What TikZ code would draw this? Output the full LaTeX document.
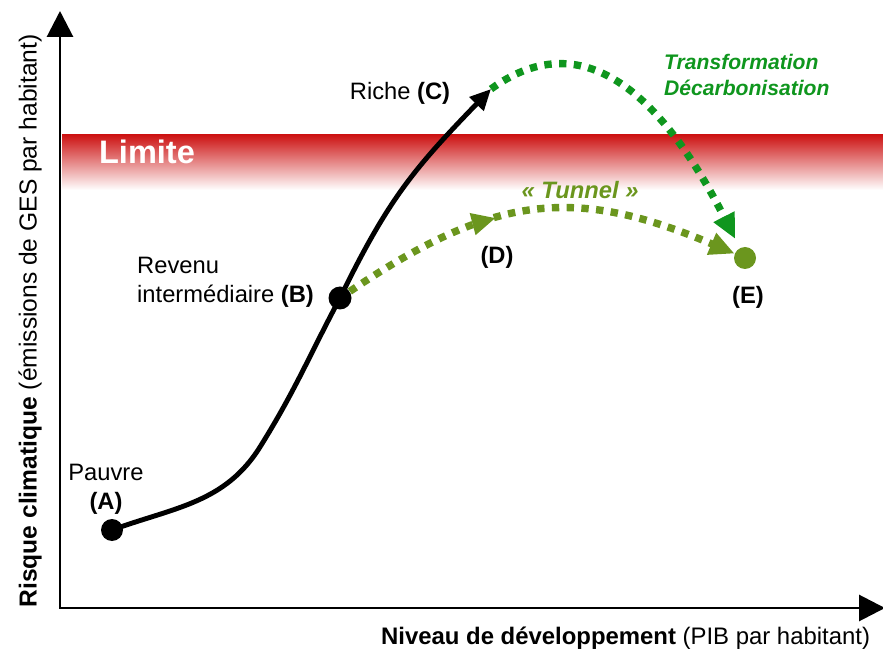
\documentclass[tikz,border=0pt]{standalone}
\usepackage{fontspec}
\setmainfont{Liberation Sans}
\usepackage{tikz}
\usetikzlibrary{arrows.meta,decorations.markings}

\definecolor{tunnelgreen}{RGB}{107,150,30}
\definecolor{decarbgreen}{RGB}{15,150,30}
\definecolor{limitred}{RGB}{205,20,20}

\begin{document}
\begin{tikzpicture}[
    font=\fontsize{13.5}{16.4}\selectfont,
    axis/.style={line width=1.7pt,{Triangle[length=0.52cm,width=0.52cm]}-{Triangle[length=0.52cm,width=0.52cm]}},
    dot/.style={circle,fill=black,inner sep=0pt,minimum size=0.44cm},
    growth/.style={line width=2.8pt,-{Triangle[length=0.42cm,width=0.38cm]}},
    greendash/.style={line width=4.2pt,dash pattern=on 4.2pt off 4.2pt,-{Triangle[length=0.5cm,width=0.44cm]}},
    midarrow/.style={decoration={markings,mark=at position #1 with {\arrow{Triangle[length=0.48cm,width=0.42cm]}}},postaction={decorate}}
    ]
    \useasboundingbox (0,0) rectangle (17.66,13.04);

    % bande limite
    \shade[top color=limitred,bottom color=white] (1.24,9.24) rectangle (17.66,10.34);
    \node[text=white,font=\fontsize{18.5}{20}\selectfont\bfseries] (limite) at (2.94,10.0) {Limite};

    % axes
    \coordinate (ytop) at (1.2,12.82);
    \coordinate (xend) at (17.7,0.88);
    \draw[axis] (ytop) |- (xend);
    \node[rotate=90,font=\fontsize{14}{16}\selectfont] (ylabel) at (0.6,6.62) {\textbf{Risque climatique} (émissions de GES par habitant)};
    \node[anchor=west,font=\fontsize{13.6}{16}\selectfont] (xlabel) at (7.5,0.28) {\textbf{Niveau de développement} (PIB par habitant)};

    % points
    \node[dot] (A) at (2.24,2.44) {};
    \node[dot,minimum size=0.46cm] (B) at (6.8,7.08) {};
    \coordinate (C) at (9.82,11.26);
    \node[dot,fill=tunnelgreen] (E) at (14.9,7.88) {};
    \coordinate (bend) at (5.2,4.1);

    % courbes
    \draw[growth] (A.center) to[out=20,in=238] (bend) to[out=58,in=242] (B.center) to[out=64,in=226,looseness=1.1] (C);
    \draw[greendash,tunnelgreen,midarrow=0.4] (B) to[out=34,in=157,looseness=1.15] (E);
    \draw[greendash,decarbgreen,shorten >=0.2cm] (C) to[out=36,in=117,looseness=1.15] (E);

    % textes
    \node[align=center] (pauvre) at (2.12,3.26) {Pauvre\\\textbf{(A)}};
    \node[align=left,anchor=west] (revenu) at (2.62,7.39) {Revenu\\intermédiaire \textbf{(B)}};
    \node (riche) at (8.0,11.18) {Riche \textbf{(C)}};
    \node (labelD) at (9.94,7.9) {\textbf{(D)}};
    \node (labelE) at (14.96,7.1) {\textbf{(E)}};
    \node[text=tunnelgreen,font=\fontsize{13.5}{16}\selectfont\bfseries\itshape] (tunnel) at (11.6,9.24) {« Tunnel »};
    \node[text=decarbgreen,align=left,anchor=west,font=\fontsize{12}{14.7}\selectfont\bfseries\itshape] (transfo) at (13.16,11.54) {Transformation\\Décarbonisation};
\end{tikzpicture}
\end{document}
